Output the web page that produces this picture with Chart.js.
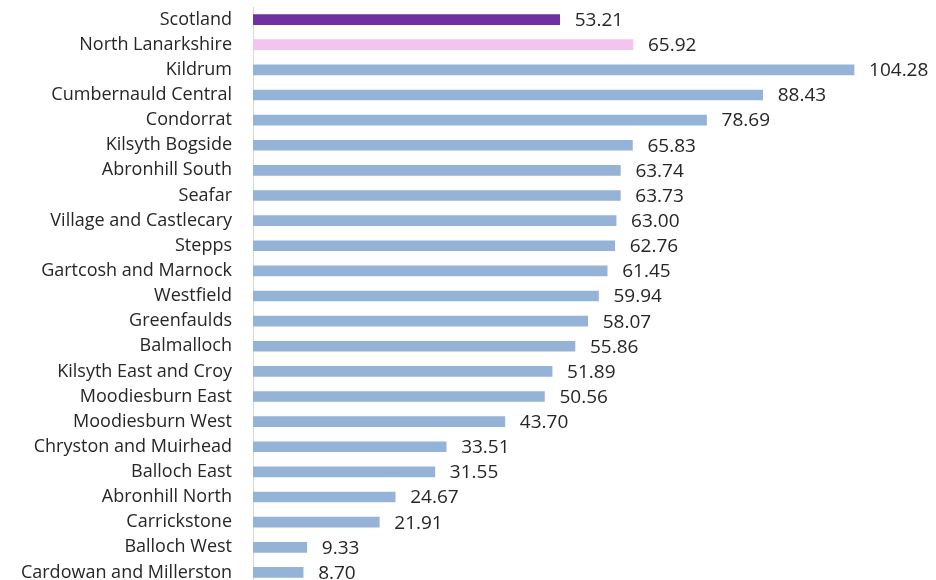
<!DOCTYPE html>
<html>
<head>
<meta charset="utf-8">
<script src="https://cdn.jsdelivr.net/npm/chart.js"></script>
<style>
  html, body { margin: 0; padding: 0; overflow: hidden; background: #fff; }
  #wrap { width: 936px; height: 585px; }
</style>
</head>
<body>
<div id="wrap"><canvas id="myChart"></canvas></div>
<script>
'use strict';
const areas = [
  'Scotland', 'North Lanarkshire', 'Kildrum', 'Cumbernauld Central', 'Condorrat',
  'Kilsyth Bogside', 'Abronhill South', 'Seafar', 'Village and Castlecary', 'Stepps',
  'Gartcosh and Marnock', 'Westfield', 'Greenfaulds', 'Balmalloch', 'Kilsyth East and Croy',
  'Moodiesburn East', 'Moodiesburn West', 'Chryston and Muirhead', 'Balloch East',
  'Abronhill North', 'Carrickstone', 'Balloch West', 'Cardowan and Millerston'
];
const rates = [
  53.21, 65.92, 104.28, 88.43, 78.69, 65.83, 63.74, 63.73, 63.00, 62.76,
  61.45, 59.94, 58.07, 55.86, 51.89, 50.56, 43.70, 33.51, 31.55, 24.67,
  21.91, 9.33, 8.70
];

const colours = areas.map(function (a, i) {
  if (i === 0) return '#7030A0';
  if (i === 1) return '#F5C3EF';
  return '#95B3D7';
});

// draws the number after each bar
const valueLabels = {
  id: 'valueLabels',
  afterDatasetsDraw(chart) {
    const ctx = chart.ctx;
    const meta = chart.getDatasetMeta(0);
    ctx.save();
    ctx.font = '19px "Open Sans"';
    ctx.fillStyle = '#262626';
    ctx.textBaseline = 'middle';
    meta.data.forEach(function (bar, i) {
      ctx.fillText(rates[i].toFixed(2), bar.x + 15, bar.y + 1);
    });
    ctx.restore();
  }
};

const ctx = document.getElementById('myChart').getContext('2d');
new Chart(ctx, {
  type: 'bar',
  data: {
    labels: areas,
    datasets: [{
      data: rates,
      backgroundColor: colours,
      barThickness: 10
    }]
  },
  options: {
    indexAxis: 'y',
    responsive: true,
    maintainAspectRatio: false,
    animation: false,
    layout: { padding: { top: 7, right: 0, bottom: 0, left: 0 } },
    plugins: {
      legend: { display: false },
      tooltip: { enabled: false }
    },
    scales: {
      x: {
        min: 0,
        max: 118.5,
        display: false
      },
      y: {
        grid: { display: false, drawTicks: false },
        border: { color: '#D9D9D9', width: 1 },
        ticks: {
          color: '#262626',
          padding: 21,
          autoSkip: false,
          font: { family: 'Open Sans', size: 18 }
        },
        afterFit(scale) {
          scale.width = 253;
          scale.paddingTop = 0;
          scale.paddingBottom = 0;
        }
      }
    }
  },
  plugins: [valueLabels]
});
</script>
</body>
</html>
